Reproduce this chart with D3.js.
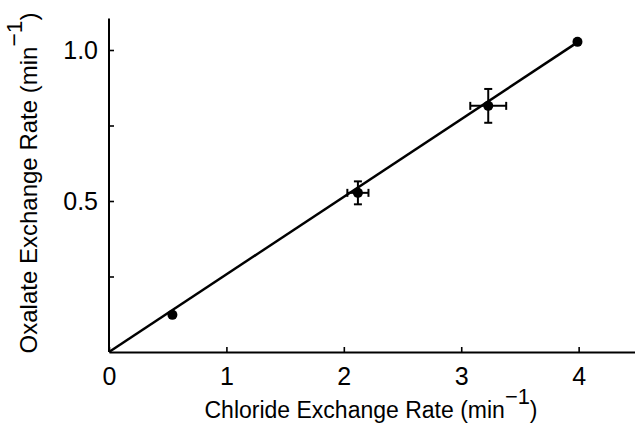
<!DOCTYPE html>
<html>
<head>
<meta charset="utf-8">
<script src="https://cdn.jsdelivr.net/npm/d3@7"></script>
<style>
  html, body { margin: 0; padding: 0; background: #fff; }
  svg { display: block; }
  text { font-family: "Liberation Sans", Arial, sans-serif; fill: #000; }
</style>
</head>
<body>
<svg id="chart" width="635" height="426"></svg>
<script>
// Measured exchange rates (min^-1)
const chlorideRate = [0.54, 2.12, 3.23, 3.99];
const oxalateRate  = [0.123, 0.527, 0.815, 1.027];
// Standard errors (0 where no bar is shown)
const chlorideErr  = [0, 0.09, 0.153, 0];
const oxalateErr   = [0, 0.038, 0.056, 0];
// Linear regression through the origin
const fitSlope = 0.257;
const fitRange = [0, 3.96];

const xTicks = [0, 1, 2, 3, 4];
const xTickLabels = ["0", "1", "2", "3", "4"];
const yTicks = [0.25, 0.5, 0.75, 1.0];
const yTickLabels = ["", "0.5", "", "1.0"];

const svg = d3.select("#chart");

const x = d3.scaleLinear().domain([0, 4.48]).range([109, 635]);
const y = d3.scaleLinear().domain([0, 1.1]).range([352, 19.8]);

// Axes with inward ticks
const xAxis = d3.axisBottom(x)
  .tickValues(xTicks)
  .tickFormat((d, i) => xTickLabels[i])
  .tickSizeInner(-5).tickSizeOuter(0).tickPadding(15);
const yAxis = d3.axisLeft(y)
  .tickValues(yTicks)
  .tickFormat((d, i) => yTickLabels[i])
  .tickSizeInner(-5).tickSizeOuter(0).tickPadding(11);

const gx = svg.append("g").attr("transform", `translate(0,${y(0)})`).call(xAxis);
const gy = svg.append("g").attr("transform", `translate(${x(0)},0)`).call(yAxis);

gy.select(".domain").attr("d", `M0,${y(0)}V${y(1.104)}`);

[gx, gy].forEach(g => {
  g.select(".domain").attr("stroke", "#000").attr("stroke-width", 2);
  g.selectAll(".tick line").attr("stroke", "#000").attr("stroke-width", 1.6);
  g.selectAll(".tick text")
    .style("font-family", "'Liberation Sans', Arial, sans-serif")
    .attr("font-size", 25).attr("fill", "#000");
});
gx.selectAll(".tick text").attr("dy", "0.71em");

// Regression line
svg.append("line")
  .attr("x1", x(fitRange[0])).attr("y1", y(fitSlope * fitRange[0]))
  .attr("x2", x(fitRange[1])).attr("y2", y(fitSlope * fitRange[1]))
  .attr("stroke", "#000").attr("stroke-width", 2.5);

const pts = chlorideRate.map((cx, i) => ({
  cx, cy: oxalateRate[i], ex: chlorideErr[i], ey: oxalateErr[i]
}));

// Error bars with caps
const cap = 4;
const eg = svg.append("g").attr("stroke", "#000").attr("stroke-width", 2);
pts.filter(p => p.ey > 0).forEach(p => {
  const px = x(p.cx), y1 = y(p.cy - p.ey), y2 = y(p.cy + p.ey);
  eg.append("line").attr("x1", px).attr("x2", px).attr("y1", y1).attr("y2", y2);
  eg.append("line").attr("x1", px - cap).attr("x2", px + cap).attr("y1", y1).attr("y2", y1);
  eg.append("line").attr("x1", px - cap).attr("x2", px + cap).attr("y1", y2).attr("y2", y2);
});
pts.filter(p => p.ex > 0).forEach(p => {
  const py = y(p.cy), x1 = x(p.cx - p.ex), x2 = x(p.cx + p.ex);
  eg.append("line").attr("x1", x1).attr("x2", x2).attr("y1", py).attr("y2", py);
  eg.append("line").attr("x1", x1).attr("x2", x1).attr("y1", py - cap).attr("y2", py + cap);
  eg.append("line").attr("x1", x2).attr("x2", x2).attr("y1", py - cap).attr("y2", py + cap);
});

// Data points
svg.append("g").selectAll("circle").data(pts).join("circle")
  .attr("cx", d => x(d.cx)).attr("cy", d => y(d.cy)).attr("r", 5)
  .attr("fill", "#000");

// Axis titles with a raised, near full-size exponent
function unitTitle(sel, label) {
  sel.append("tspan").text(label + " (min");
  sel.append("tspan").text("\u22121").attr("font-size", "0.95em").attr("dy", "-0.65em");
  sel.append("tspan").text(")").attr("dy", "0.62em");
}

const xTitle = svg.append("text")
  .attr("x", 371).attr("y", 418)
  .attr("text-anchor", "middle").attr("font-size", 23);
unitTitle(xTitle, "Chloride Exchange Rate");

const yTitle = svg.append("text")
  .attr("transform", "translate(37,183) rotate(-90)")
  .attr("text-anchor", "middle").attr("font-size", 24);
unitTitle(yTitle, "Oxalate Exchange Rate");
</script>
</body>
</html>
